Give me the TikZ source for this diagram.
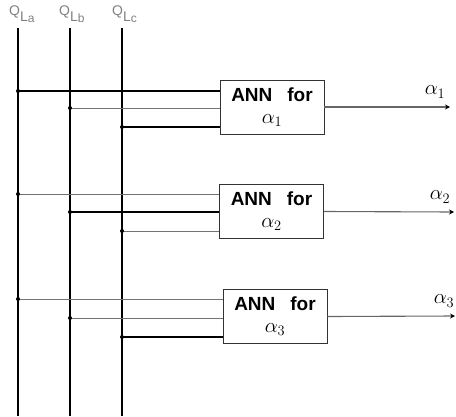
\documentclass[tikz,border=0pt]{standalone}
\usepackage{fontspec}
\setmainfont{Liberation Sans}
\usetikzlibrary{arrows.meta}
\newcommand{\annlabel}[1]{\textbf{ANN\hspace{15pt}for}\hspace{8pt}\\[-2pt]{\fontsize{21}{24}\selectfont$\alpha_{#1}$}\hspace{4pt}}
\newcommand{\qlabel}[1]{Q\raisebox{-6pt}{L\raisebox{-1pt}{\fontsize{12}{12}\selectfont #1}}}
\begin{document}
\begin{tikzpicture}[x=1pt,y=-1pt,
  bus/.style={black,line width=1.1pt},
  darkin/.style={black,line width=1.1pt},
  lightin/.style={black!55,line width=1pt},
  outline/.style={black!60,line width=1.1pt,-{Stealth[length=5pt,width=5pt,black]}},
  annbox/.style={draw=black!80,line width=0.9pt,minimum width=104pt,minimum height=54pt,inner sep=0pt,align=center,font=\fontsize{19}{24}\selectfont},
  jdot/.style={circle,fill=black,inner sep=0pt,minimum size=4pt},
  qlab/.style={text=black!50,font=\fontsize{14}{14}\selectfont,inner sep=0pt,anchor=south west},
  alab/.style={font=\fontsize{21}{22}\selectfont,inner sep=0pt}]
\useasboundingbox (0,0) rectangle (456,416);
% bus tops / bottoms
\coordinate (ta) at (18,28);  \coordinate (ba) at (18,416);
\coordinate (tb) at (70,28);  \coordinate (bb) at (70,416);
\coordinate (tc) at (122,28); \coordinate (bc) at (122,416);
\node[qlab] (qa) at (9,23) {\qlabel{a}};
\node[qlab] (qb) at (59,23) {\qlabel{b}};
\node[qlab] (qc) at (112,23) {\qlabel{c}};
\draw[bus] (ta) -- (ba);
\draw[bus] (tb) -- (bb);
\draw[bus] (tc) -- (bc);
% boxes
\node[annbox] (n1) at (272,107) {\annlabel{1}};
\node[annbox] (n2) at (271.5,211.5) {\annlabel{2}};
\node[annbox] (n3) at (275,316.5) {\annlabel{3}};
% junctions
\coordinate (j1a) at (18,91);  \coordinate (j1b) at (70,108);  \coordinate (j1c) at (122,127);
\coordinate (j2a) at (18,194); \coordinate (j2b) at (70,212);  \coordinate (j2c) at (122,231);
\coordinate (j3a) at (18,299); \coordinate (j3b) at (70,318);  \coordinate (j3c) at (122,337);
\draw[darkin]  (j1a) -- (j1a -| n1.west);
\draw[lightin] (j1b) -- (j1b -| n1.west);
\draw[darkin]  (j1c) -- (j1c -| n1.west);
\draw[lightin] (j2a) -- (j2a -| n2.west);
\draw[darkin]  (j2b) -- (j2b -| n2.west);
\draw[lightin] (j2c) -- (j2c -| n2.west);
\draw[lightin] (j3a) -- (j3a -| n3.west);
\draw[lightin] (j3b) -- (j3b -| n3.west);
\draw[darkin]  (j3c) -- (j3c -| n3.west);
\foreach \j in {j1a,j1b,j1c,j2a,j2b,j2c,j3a,j3b,j3c} \node[jdot] at (\j) {};
% outputs
\coordinate (o1) at (450,107);
\coordinate (o2) at (454,212);
\coordinate (o3) at (455,316);
\draw[outline] (n1.east) -- (o1);
\draw[outline] (n2.east) -- (o2);
\draw[outline] (n3.east) -- (o3);
\node[alab] (a1) at (435,92) {$\alpha_1$};
\node[alab] (a2) at (440,197) {$\alpha_2$};
\node[alab] (a3) at (444,301) {$\alpha_3$};
\end{tikzpicture}
\end{document}
